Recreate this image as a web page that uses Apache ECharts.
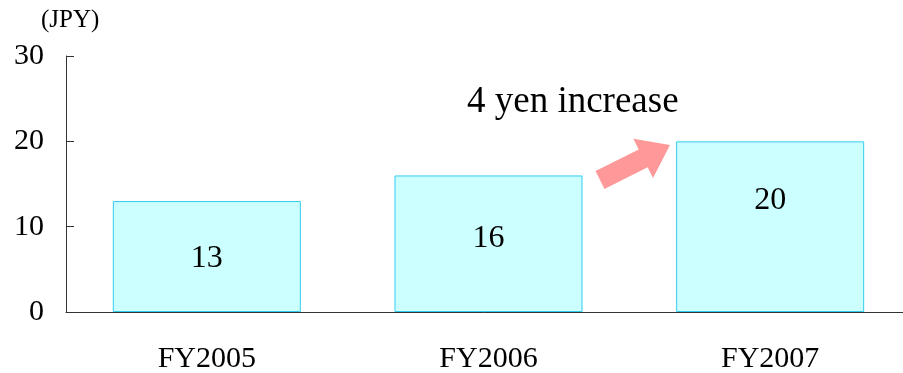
<!DOCTYPE html>
<html>
<head>
<meta charset="utf-8">
<script src="https://cdn.jsdelivr.net/npm/echarts@6/dist/echarts.min.js"></script>
<style>
  html, body { margin: 0; padding: 0; background: #fff; }
  #chart { width: 903px; height: 373px; }
</style>
</head>
<body>
<div id="chart"></div>
<script>
// Dividend per share by fiscal year
const categories = ['FY2005', 'FY2006', 'FY2007'];
const dividends = [13, 16, 20];
const yTicks = [0, 10, 20, 30];
const unitLabel = '(JPY)';
const noteText = '4 yen increase';

// vertical nudges for the value labels inside each bar (px)
const labelNudge = [2, -5, -26];

const serif = '"Liberation Serif", "Times New Roman", serif';

const chart = echarts.init(document.getElementById('chart'), null, { renderer: 'canvas' });

// Block arrow pointing up-right toward the last bar
function arrowPoints(tail, tip, shaftHalf, headLen, headHalf) {
  const dx = tip[0] - tail[0], dy = tip[1] - tail[1];
  const len = Math.hypot(dx, dy);
  const ux = dx / len, uy = dy / len;
  const nx = -uy, ny = ux;
  const sx = tip[0] - ux * headLen, sy = tip[1] - uy * headLen;
  return [
    [tail[0] + nx * shaftHalf, tail[1] + ny * shaftHalf],
    [sx + nx * shaftHalf, sy + ny * shaftHalf],
    [sx + nx * headHalf, sy + ny * headHalf],
    tip,
    [sx - nx * headHalf, sy - ny * headHalf],
    [sx - nx * shaftHalf, sy - ny * shaftHalf],
    [tail[0] - nx * shaftHalf, tail[1] - ny * shaftHalf]
  ];
}

const barData = dividends.map((v, i) => ({
  value: v,
  label: { offset: [0, labelNudge[i]] }
}));

chart.setOption({
  animation: false,
  backgroundColor: '#ffffff',
  grid: {
    left: 66, width: 845, top: 56, bottom: 61,
    containLabel: false,
    outerBoundsMode: 'none'
  },
  xAxis: {
    type: 'category',
    data: categories,
    axisLine: { lineStyle: { color: '#333', width: 1 } },
    axisTick: { inside: true, length: 9, lineStyle: { color: '#333' } },
    axisLabel: { color: '#000', fontFamily: serif, fontSize: 30, margin: 32 }
  },
  yAxis: {
    type: 'value',
    min: yTicks[0],
    max: yTicks[yTicks.length - 1],
    interval: yTicks[1] - yTicks[0],
    splitLine: { show: false },
    axisLine: { show: true, lineStyle: { color: '#333', width: 1 } },
    axisTick: { show: true, inside: true, length: 8, lineStyle: { color: '#333' } },
    axisLabel: { color: '#000', fontFamily: serif, fontSize: 30, margin: 22 }
  },
  series: [{
    type: 'bar',
    data: barData,
    barWidth: 188,
    itemStyle: { color: '#ccffff', borderColor: '#33ccee', borderWidth: 1 },
    label: {
      show: true,
      position: 'inside',
      color: '#000',
      fontFamily: serif,
      fontSize: 32
    },
    z: 1
  }],
  graphic: [
    {
      type: 'text',
      left: 41, top: 8,
      style: { text: unitLabel, fill: '#000', font: '25px ' + serif }
    },
    {
      type: 'text',
      left: 467, top: 84,
      style: { text: noteText, fill: '#000', font: '37px ' + serif }
    },
    {
      type: 'polygon',
      shape: { points: arrowPoints([600, 180], [670, 145], 10, 30, 22) },
      style: { fill: '#ff9999' }
    }
  ]
});
</script>
</body>
</html>
